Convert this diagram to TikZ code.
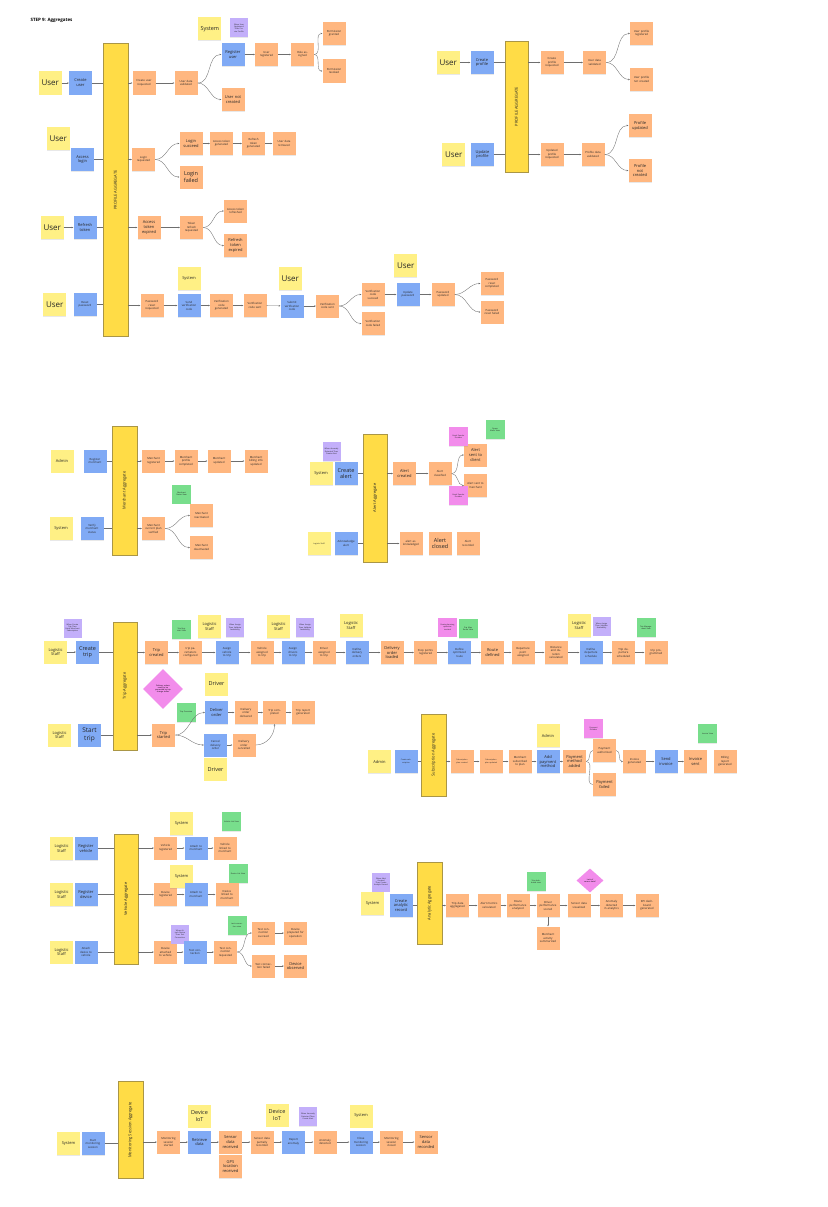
\documentclass[tikz,border=0pt]{standalone}
\usepackage{fontspec}
\setmainfont{Open Sans}
\usetikzlibrary{arrows.meta,backgrounds,calc,shapes.geometric,shadows}
\definecolor{cy}{RGB}{255,240,133}
\definecolor{cb}{RGB}{128,170,245}
\definecolor{co}{RGB}{255,183,128}
\definecolor{cpu}{RGB}{195,175,250}
\definecolor{ck}{RGB}{242,140,235}
\definecolor{cg}{RGB}{120,222,140}
\definecolor{ca}{RGB}{255,220,70}
\definecolor{cab}{RGB}{170,150,70}
\definecolor{ln}{RGB}{110,110,110}
\newcommand\szA{\fontsize{1.9}{2.3}\selectfont}
\newcommand\szB{\fontsize{2.8}{3.5}\selectfont}
\newcommand\szC{\fontsize{4}{4.9}\selectfont}
\newcommand\szD{\fontsize{5.5}{6.4}\selectfont}
\newcommand\szE{\fontsize{8}{9}\selectfont}
\tikzset{
 box/.style={minimum width=23pt, minimum height=23pt, inner sep=0pt, align=center, text width=17pt, font=\szB, text=black!85, drop shadow={shadow xshift=0.3pt, shadow yshift=-0.8pt, opacity=0.18}},
 yel/.style={box, fill=cy},
 cmd/.style={box, fill=cb},
 evt/.style={box, fill=co},
 pol/.style={box, fill=cpu, minimum width=18pt, minimum height=19pt, text width=14pt, font=\szA},
 ext/.style={box, fill=ck, minimum width=19pt, minimum height=19pt, text width=15pt, font=\szA},
 view/.style={box, fill=cg, minimum width=19pt, minimum height=19pt, text width=15pt, font=\szA},
 agg/.style={draw=cab, line width=0.7pt, fill=ca, inner sep=0pt},
 agglabel/.style={rotate=90, font=\szC, text=black!85},
 conn/.style={draw=ln, line width=0.35pt, -{Stealth[length=1.6pt,width=1.5pt]}},
 link/.style={draw=ln, line width=0.35pt},
 vline/.style={draw=ln!60, line width=0.5pt},
 dia/.style={diamond, fill=ck, inner sep=0pt, minimum width=40pt, minimum height=40pt, align=center, text width=17pt, font=\szA},
}
\begin{document}
\begin{tikzpicture}[x=1pt,y=-1pt]
\useasboundingbox[fill=white] (0,0) rectangle (827,1207);

\node[font=\bfseries\fontsize{4.5}{5}\selectfont, anchor=west] (title) at (27,20) {STEP 9: Aggregates};

%% ===== PROFILE AGGREGATE (left) =====
\node[agg, minimum width=25pt, minimum height=293pt] (pa1) at (115.5,189.5) {};
\node[agglabel] (pa1l) at (115.5,190) {PROFILE AGGREGATE};

\node[yel, font=\szE] (u1) at (50,83) {User};
\node[cmd, font=\szC] (cu) at (80.5,83) {Create user};
\node[evt] (cur) at (144,83) {Create user requested};
\node[evt] (udv) at (186,83) {User data validated};
\node[yel, font=\szD] (sys1) at (209,29) {System};
\node[pol] (pol1) at (239,28) {When User Registered Then Create Profile};
\node[cmd, font=\szC] (ru) at (233,54.5) {Register user};
\node[evt, font=\szC] (unc) at (233,99.5) {User not created};
\node[evt] (ureg) at (266.5,54.5) {User registered};
\node[evt] (ra) at (302.5,54.5) {Role assigned};
\node[evt] (pg) at (334,33.5) {Permission granted};
\node[evt] (pr) at (334,71) {Permission revoked};

\node[yel, font=\szE] (u2) at (58,138.5) {User};
\node[cmd, font=\szC] (al) at (82.5,159.5) {Access login};
\node[evt] (lr) at (143.5,159.5) {Login requested};
\node[evt, font=\szC] (ls) at (191,143.5) {Login succeed};
\node[evt, font=\szD] (lf) at (191,177) {Login failed};
\node[evt] (atg) at (221.5,143.5) {Access token generated};
\node[evt] (rtg) at (253.5,143.5) {Refresh token generated};
\node[evt] (udr) at (284,143.5) {User data retrieved};

\node[yel, font=\szE] (u3) at (52,227.5) {User};
\node[cmd, font=\szC] (rt) at (85,227.5) {Refresh token};
\node[evt, font=\szC] (ate) at (149,227.5) {Access token expired};
\node[evt] (trr) at (191.5,227.5) {Token refresh requested};
\node[evt] (atr) at (235.5,211) {Access token refreshed};
\node[evt, font=\szC] (rte) at (235.5,245.5) {Refresh token expired};

\node[yel, font=\szE] (u4) at (54.5,304.5) {User};
\node[cmd] (rp) at (85,304.5) {Reset password};
\node[evt] (prr) at (152,305.5) {Password reset requested};
\node[yel, font=\szC] (sys2) at (189,278.5) {System};
\node[cmd] (svc) at (189,305.5) {Send verification code};
\node[evt] (vcg) at (221.5,305.5) {Verification code generated};
\node[evt] (vcs) at (255,305.5) {Verification code sent};
\node[yel, font=\szE] (u5) at (290,278.5) {User};
\node[cmd] (svc2) at (292,306) {Submit verification code};
\node[evt] (vcs2) at (327.5,306) {Verification code sent};
\node[evt] (vcsu) at (373,294.5) {Verification code succeed};
\node[evt] (vcf) at (373,323.5) {Verification code failed};
\node[yel, font=\szE] (u6) at (405.5,265.5) {User};
\node[cmd] (up) at (408,294.5) {Update password};
\node[evt] (pu) at (443,294.5) {Password updated};
\node[evt] (prc) at (492,283.5) {Password reset completed};
\node[evt] (prf) at (492,312) {Password reset failed};

\draw[conn] (u1) -- (cu);
\draw[link] (cu.east) -- (cu.east -| pa1.west);
\draw[conn] (pa1.east |- cur.west) -- (cur.west);
\draw[conn] (cur) -- (udv);
\draw[conn] (udv.east) to[out=0,in=180] (ru.west);
\draw[conn] (udv.east) to[out=0,in=180] (unc.west);
\draw[conn] (ru) -- (ureg);
\draw[conn] (ureg) -- (ra);
\draw[conn] (ra.east) to[out=0,in=180] (pg.west);
\draw[conn] (ra.east) to[out=0,in=180] (pr.west);

\draw[link] (al.east) -- (al.east -| pa1.west);
\draw[conn] (pa1.east |- lr.west) -- (lr.west);
\draw[conn] (lr.east) to[out=0,in=180] (ls.west);
\draw[conn] (lr.east) to[out=0,in=180] (lf.west);
\draw[conn] (ls) -- (atg);
\draw[conn] (atg) -- (rtg);
\draw[conn] (rtg) -- (udr);

\draw[conn] (u3) -- (rt);
\draw[link] (rt.east) -- (rt.east -| pa1.west);
\draw[conn] (pa1.east |- ate.west) -- (ate.west);
\draw[conn] (ate) -- (trr);
\draw[conn] (trr.east) to[out=0,in=180] (atr.west);
\draw[conn] (trr.east) to[out=0,in=180] (rte.west);

\draw[link] (rp.east) -- (rp.east -| pa1.west);
\draw[conn] (pa1.east |- prr.west) -- (prr.west);
\draw[conn] (prr) -- (svc);
\draw[conn] (svc) -- (vcg);
\draw[conn] (vcg) -- (vcs);
\draw[conn] (vcs) -- (svc2);
\draw[conn] (svc2) -- (vcs2);
\draw[conn] (vcs2.east) to[out=0,in=180] (vcsu.west);
\draw[conn] (vcs2.east) to[out=0,in=180] (vcf.west);
\draw[conn] (vcsu) -- (up);
\draw[conn] (up) -- (pu);
\draw[conn] (pu.east) to[out=0,in=180] (prc.west);
\draw[conn] (pu.east) to[out=0,in=180] (prf.west);

%% ===== PROFILE AGGREGATE (right) =====
\node[agg, minimum width=23pt, minimum height=131pt] (pa2) at (516.5,106.5) {};
\node[agglabel] (pa2l) at (516.5,106.5) {PROFILE AGGREGATE};
\node[yel, font=\szE] (u7) at (448,62.5) {User};
\node[cmd, font=\szC] (cprof) at (482,62.5) {Create profile};
\node[evt] (cpr) at (552,62.5) {Create profile requested};
\node[evt] (udv2) at (594.5,62.5) {User data validated};
\node[evt] (upr) at (641.5,33.5) {User profile registered};
\node[evt] (upnc) at (641.5,79.5) {User profile not created};
\node[yel, font=\szE] (u8) at (453.5,154.5) {User};
\node[cmd, font=\szC] (upd) at (482.5,154.5) {Update profile};
\node[evt] (uprq) at (552,154.5) {Updated profile requested};
\node[evt] (pdv) at (593,154.5) {Profile data validated};
\node[evt, font=\szC] (pup) at (640,125.5) {Profile updated};
\node[evt, font=\szC] (pnc) at (640,170.5) {Profile not created};

\draw[conn] (u7) -- (cprof);
\draw[link] (cprof.east) -- (cprof.east -| pa2.west);
\draw[conn] (pa2.east |- cpr.west) -- (cpr.west);
\draw[conn] (cpr) -- (udv2);
\draw[conn] (udv2.east) to[out=0,in=180] (upr.west);
\draw[conn] (udv2.east) to[out=0,in=180] (upnc.west);
\draw[link] (upd.east) -- (upd.east -| pa2.west);
\draw[conn] (pa2.east |- uprq.west) -- (uprq.west);
\draw[conn] (uprq) -- (pdv);
\draw[conn] (pdv.east) to[out=0,in=180] (pup.west);
\draw[conn] (pdv.east) to[out=0,in=180] (pnc.west);

%% ===== MERCHANT AGGREGATE =====
\node[agg, minimum width=25pt, minimum height=129pt] (ma) at (124.5,490.5) {};
\node[agglabel] (mal) at (124.5,490.5) {Merchant Aggregate};
\node[yel, font=\szC] (adm1) at (62,461) {Admin};
\node[cmd] (rm) at (95,461) {Register merchant};
\node[evt] (mr) at (153.5,461) {Merchant registered};
\node[evt] (mpc) at (186,461) {Merchant profile completed};
\node[evt] (mu) at (219,461) {Merchant updated};
\node[evt] (mbu) at (256,461) {Merchant billing info updated};
\node[yel, font=\szC] (sys3) at (61,528.5) {System};
\node[cmd] (vms) at (92,528.5) {Verify merchant status};
\node[evt] (mcp) at (153.5,528.5) {Merchant current plan verified};
\node[view] (msv) at (181.5,494) {Merchant Status View};
\node[evt] (mra) at (201.5,515.5) {Merchant reactivated};
\node[evt] (mda) at (201.5,547.5) {Merchant deactivated};

\draw[link] (rm.east) -- (rm.east -| ma.west);
\draw[conn] (ma.east |- mr.west) -- (mr.west);
\draw[conn] (mr) -- (mpc);
\draw[conn] (mpc) -- (mu);
\draw[conn] (mu) -- (mbu);
\draw[link] (vms.east) -- (vms.east -| ma.west);
\draw[conn] (ma.east |- mcp.west) -- (mcp.west);
\draw[conn] (mcp.east) to[out=0,in=180] (mra.west);
\draw[conn] (mcp.east) to[out=0,in=180] (mda.west);

%% ===== ALERT AGGREGATE =====
\node[agg, minimum width=24pt, minimum height=128pt] (aa) at (375,498) {};
\node[agglabel] (aal) at (375,498) {Alert Aggregate};
\node[yel, font=\szC] (sys4) at (321,473.5) {System};
\node[pol] (pol2) at (331.5,451.5) {When Anomaly Detected Then Create Alert};
\node[cmd, font=\szD] (cal) at (346,473.5) {Create alert};
\node[evt, font=\szC] (ac) at (404.5,473.5) {Alert created};
\node[evt] (acl) at (440,473.5) {Alert classified};
\node[evt, font=\szC] (asc) at (475.5,455) {Alert sent to client};
\node[evt] (asm) at (475.5,485.5) {Alert sent to merchant};
\node[ext] (esp1) at (458.5,436.5) {Email Sender Provider};
\node[ext] (esp2) at (458.5,495.5) {Email Sender Provider};
\node[view] (oav) at (495,429.5) {Opens Alerts View};
\node[yel, font=\szA] (yl2) at (319,543.5) {Logistic Staff};
\node[cmd] (ack) at (346,543.5) {Acknowledge alert};
\node[evt] (aack) at (411,543.5) {alert acknowledged};
\node[evt, font=\szD] (acls) at (440,543.5) {Alert closed};
\node[evt] (arec) at (468,543.5) {Alert recorded};

\draw[link] (cal.east) -- (cal.east -| aa.west);
\draw[conn] (aa.east |- ac.west) -- (ac.west);
\draw[conn] (ac) -- (acl);
\draw[conn] (acl.east) to[out=0,in=180] (asc.west);
\draw[conn] (acl.east) to[out=0,in=180] (asm.west);
\draw[link] (ack.east) -- (ack.east -| aa.west);
\draw[conn] (aa.east |- aack.west) -- (aack.west);

%% ===== TRIP AGGREGATE =====
\node[agg, minimum width=24pt, minimum height=128pt] (ta) at (125,686) {};
\node[agglabel] (tal) at (125,686) {Trip Aggregate};
\node[pol] (pol3) at (72.5,628) {When Create Trip Then Fetch Merchant Subscription};
\node[yel, font=\szC] (ls1) at (55.5,652) {Logistic Staff};
\node[cmd, font=\szD] (ct) at (87.5,652) {Create trip};
\node[evt, font=\szC] (tc) at (156.5,652.5) {Trip created};
\node[view] (trv) at (181.5,629.5) {Trip Register View};
\node[evt] (tpc) at (190.5,652.5) {trip parameters configured};
\node[yel, font=\szC] (ls2) at (209.5,626.5) {Logistic Staff};
\node[pol] (pol4) at (235,627.5) {When Assign Then Validate Availability};
\node[cmd, font=\szB] (avt) at (227,652.5) {Assign vehicle to trip};
\node[evt] (vat) at (262,652.5) {Vehicle assigned to trip};
\node[yel, font=\szC] (ls3) at (278.5,626.5) {Logistic Staff};
\node[pol] (pol5) at (305,627.5) {When Assign Then Validate Availability};
\node[cmd] (adt) at (293,652.5) {Assign drivers to trip};
\node[evt] (dat) at (324,652.5) {Driver assigned to trip};
\node[yel, font=\szC] (ls4) at (351,625.5) {Logistic Staff};
\node[cmd] (ddo) at (357,652.5) {Define delivery orders};
\node[evt, font=\szC] (dol) at (392,652.5) {Delivery order loaded};
\node[evt] (spr) at (425.5,652.5) {Stop points registered};
\node[ext] (rpo) at (447.5,627) {Route planning optimizer invoked};
\node[view] (tmrv) at (468,628.5) {Trip Map Route View};
\node[cmd] (dor) at (459.5,652.5) {Define optimized route};
\node[evt, font=\szC] (rd) at (492.5,652.5) {Route defined};
\node[evt] (dpa) at (523,652.5) {Departure point assigned};
\node[evt] (ddc) at (556,652.5) {Distance and duration calculated};
\node[yel, font=\szC] (ls5) at (579,625.5) {Logistic Staff};
\node[pol] (pol6) at (601.5,626) {When Assign Then Validate Availability};
\node[cmd] (dds) at (591,652.5) {Define departure schedule};
\node[evt] (tds) at (623.5,652.5) {Trip departure scheduled};
\node[view] (tmv) at (646,627.5) {Trip Management View};
\node[evt] (tp) at (656,652.5) {trip programmed};

\node[dia] (dia1) at (163,689) {Delivery orders ready to be processed by trip change status};
\node[yel, font=\szD] (drv1) at (216.5,684) {Driver};
\node[yel, font=\szC] (ls6) at (59.5,735) {Logistic Staff};
\node[cmd, font=\fontsize{6.5}{7.5}\selectfont] (stt) at (89.5,735) {Start trip};
\node[evt, font=\szC] (ts) at (163.5,735) {Trip started};
\node[view] (tov) at (186,712.5) {Trip Overview};
\node[cmd, font=\szC] (dlo) at (216.5,712.5) {Deliver order};
\node[evt] (dod) at (246,712.5) {Delivery order delivered};
\node[evt] (tcomp) at (274.5,712.5) {Trip completed};
\node[evt] (trg) at (303,712.5) {Trip report generated};
\node[cmd] (cdo) at (215.5,745) {Cancel delivery order};
\node[evt] (docl) at (244,745) {Delivery order cancelled};
\node[yel, font=\szD] (drv2) at (215.5,769) {Driver};

\draw[conn] (ls1) -- (ct);
\draw[link] (ct.east) -- (ct.east -| ta.west);
\draw[conn] (ta.east |- tc.west) -- (tc.west);
\foreach \a/\b in {tc/tpc,tpc/avt,avt/vat,vat/adt,adt/dat,dat/ddo,ddo/dol,dol/spr,spr/dor,dor/rd,rd/dpa,dpa/ddc,ddc/dds,dds/tds,tds/tp}
  \draw[conn] (\a) -- (\b);
\draw[link] (stt.east) -- (stt.east -| ta.west);
\draw[conn] (ta.east |- ts.west) -- (ts.west);
\draw[conn] (ts.east) to[out=0,in=180] (dlo.west);
\draw[conn] (ts.east) to[out=0,in=180] (cdo.west);
\draw[conn] (dlo) -- (dod);
\draw[conn] (dod) -- (tcomp);
\draw[conn] (tcomp) -- (trg);
\draw[conn] (cdo) -- (docl);
\draw[conn] (docl.east) to[out=0,in=-90] (tcomp.south);

%% ===== SUBSCRIPTION AGGREGATE =====
\node[agg, minimum width=25pt, minimum height=82pt] (sa) at (433.5,755) {};
\node[agglabel] (sal) at (433.5,755) {Subscription Aggregate};
\node[yel, font=\szC] (adm2) at (379.5,761.5) {Admin};
\node[cmd, font=\szA] (cs) at (406,761.5) {Create subscription};
\node[evt, font=\szA] (spc) at (462,761.5) {Subscription plan created};
\node[evt, font=\szA] (spu) at (491,761.5) {Subscription plan updated};
\node[evt] (mstp) at (520,761.5) {Merchant subscribed to plan};
\node[yel, font=\szC] (adm3) at (548,735.5) {Admin};
\node[cmd, font=\szC] (apm) at (548,761.5) {Add payment method};
\node[evt, font=\szC] (pma) at (574.5,761.5) {Payment method added};
\node[evt] (pau) at (604.5,750.5) {Payment authorized};
\node[ext] (ppv) at (593.5,728.5) {Payment Provider};
\node[evt, font=\szC] (pf) at (604.5,784.5) {Payment failed};
\node[evt] (ig) at (634.5,761.5) {Invoice generated};
\node[cmd, font=\szC] (si) at (666,761.5) {Send invoice};
\node[evt, font=\szC] (is) at (695.5,761.5) {Invoice sent};
\node[view] (iv) at (707.5,733.5) {Invoice View};
\node[evt] (brg) at (725,761.5) {Billing report generated};

\draw[link] (cs.east) -- (cs.east -| sa.west);
\draw[conn] (sa.east |- spc.west) -- (spc.west);
\draw[conn] (spc) -- (spu);
\draw[conn] (spu) -- (mstp);
\draw[conn] (mstp) -- (apm);
\draw[conn] (apm) -- (pma);
\draw[link] (pma.east) to[out=0,in=180] (pau.west);
\draw[link] (pma.east) to[out=0,in=180] (pf.west);
\draw[conn] (pau.east) to[out=0,in=180] (ig.west);
\draw[conn] (ig) -- (si);
\draw[conn] (si) -- (is);

%% ===== VEHICLE AGGREGATE =====
\node[agg, minimum width=24pt, minimum height=130pt] (va) at (126,899) {};
\node[agglabel] (val) at (126,899) {Vehicle Aggregate};
\node[yel, font=\szC] (ls7) at (61.5,848.5) {Logistic Staff};
\node[cmd, font=\szC] (rv) at (86,848.5) {Register vehicle};
\node[evt] (vr) at (165.5,848) {Vehicle registered};
\node[yel, font=\szC] (sys5) at (181.5,823.5) {System};
\node[cmd] (atm1) at (196,848) {Attach to merchant};
\node[view] (vlv) at (231.5,821.5) {Vehicle List View};
\node[evt] (vlm) at (225,848) {Vehicle linked to merchant};
\node[yel, font=\szC] (ls8) at (61.5,894.5) {Logistic Staff};
\node[cmd, font=\szC] (rdv) at (86,894.5) {Register device};
\node[evt] (dr) at (165.5,894.5) {Device registered};
\node[yel, font=\szC] (sys6) at (181.5,876.5) {System};
\node[cmd] (atm2) at (196,894.5) {Attach to merchant};
\node[view] (dlv) at (238,873.5) {Device List View};
\node[evt] (dlm) at (227,894.5) {Device linked to merchant};
\node[yel, font=\szC] (ls9) at (61.5,952) {Logistic Staff};
\node[cmd] (adv) at (86,952) {Attach device to vehicle};
\node[evt] (dav) at (165.5,952) {Device attached to vehicle};
\node[pol] (pol7) at (180,934) {When Attach Device Then Test Connection};
\node[cmd] (tcn) at (195,952) {Test connection};
\node[view] (tcv) at (237,925.5) {test connection view};
\node[evt] (tcr) at (225.5,952) {Test connection requested};
\node[evt] (tcs) at (263.5,933) {Test connection succeed};
\node[evt] (dpo) at (295.5,933) {Device prepared for operation};
\node[evt] (tcf) at (263.5,966) {Test connection failed};
\node[evt, font=\szC, text width=22pt] (dob) at (295.5,966) {Device observed};

\draw[link] (rv.east) -- (rv.east -| va.west);
\draw[conn] (va.east |- vr.west) -- (vr.west);
\draw[conn] (vr) -- (atm1);
\draw[conn] (atm1) -- (vlm);
\draw[link] (rdv.east) -- (rdv.east -| va.west);
\draw[conn] (va.east |- dr.west) -- (dr.west);
\draw[conn] (dr) -- (atm2);
\draw[conn] (atm2) -- (dlm);
\draw[link] (adv.east) -- (adv.east -| va.west);
\draw[conn] (va.east |- dav.west) -- (dav.west);
\draw[conn] (dav) -- (tcn);
\draw[conn] (tcn) -- (tcr);
\draw[conn] (tcr.east) to[out=0,in=180] (tcs.west);
\draw[conn] (tcr.east) to[out=0,in=180] (tcf.west);
\draw[conn] (tcs) -- (dpo);
\draw[conn] (tcf) -- (dob);

%% ===== ANALYTIC AGGREGATE =====
\node[agg, minimum width=25pt, minimum height=82pt] (ana) at (429.5,903) {};
\node[agglabel] (anal) at (429.5,903) {Analytic Aggregate};
\node[yel, font=\szC] (sys7) at (372.5,903.5) {System};
\node[pol] (pol8) at (381,882) {When Alert Created Then Create Analytic Record};
\node[cmd, font=\szC] (car) at (401,905.5) {Create analytic record};
\node[evt] (tda) at (457.5,905.5) {Trip data aggregated};
\node[evt] (amc) at (489,905.5) {Alert metrics calculated};
\node[evt] (rpa) at (518,905.5) {Route performance analyzed};
\node[view] (tdv) at (536,881.5) {Trip dashboard view};
\node[evt] (dps) at (548,905.5) {Driver performance scored};
\node[evt] (mas) at (548,938) {Merchant activity summarized};
\node[dia, minimum width=27pt, minimum height=24pt, text width=12pt] (dia2) at (590,880.5) {Lack of sensor data?};
\node[evt] (sdv) at (579,905.5) {Sensor data visualized};
\node[evt] (ada) at (611.5,905.5) {Anomaly detected in analytics};
\node[evt] (kpi) at (647,905.5) {KPI dashboard generated};

\draw[link] (car.east) -- (car.east -| ana.west);
\draw[conn] (ana.east |- tda.west) -- (tda.west);
\draw[conn] (tda) -- (amc);
\draw[conn] (amc) -- (rpa);
\draw[conn] (rpa) -- (dps);
\draw[conn] (dps) -- (sdv);
\draw[conn] (sdv) -- (ada);
\draw[conn] (ada) -- (kpi);
\draw[conn] (dps) -- (mas);

%% ===== MONITORING SESSION AGGREGATE =====
\node[agg, minimum width=25pt, minimum height=97pt] (msa) at (130.5,1130) {};
\node[agglabel] (msal) at (130.5,1130) {Monitoring Session Aggregate};
\node[yel, font=\szC] (sys8) at (68.5,1143.5) {System};
\node[cmd] (sms) at (93,1143.5) {Start monitoring session};
\node[evt] (mss) at (168.5,1142) {Monitoring session started};
\node[yel, font=\szD] (diot1) at (199.5,1116) {Device IoT};
\node[cmd, font=\szC] (rdd) at (199.5,1142) {Retrieve data};
\node[evt, font=\szC] (sdr) at (230.5,1142) {Sensor data received};
\node[evt, font=\szC] (glr) at (230.5,1166.5) {GPS location received};
\node[evt] (sdpr) at (262,1142) {Sensor data partially recorded};
\node[yel, font=\szD] (diot2) at (277,1115) {Device IoT};
\node[pol] (pol9) at (308,1116.5) {When Anomaly Detected Then Create Alert};
\node[cmd] (ran) at (293.5,1142) {Report anomaly};
\node[evt] (anod) at (325,1142) {Anomaly detected};
\node[yel, font=\szC] (sys9) at (361,1116) {System};
\node[cmd] (cms) at (361,1142) {Close monitoring session};
\node[evt] (msc) at (391.5,1142) {Monitoring session closed};
\node[evt, font=\szC] (sdrec) at (426,1142) {Sensor data recorded};

\draw[link] (sms.east) -- (sms.east -| msa.west);
\draw[conn] (msa.east |- mss.west) -- (mss.west);
\foreach \a/\b in {mss/rdd,rdd/sdr,sdr/sdpr,sdpr/ran,ran/anod,anod/cms,cms/msc,msc/sdrec}
  \draw[conn] (\a) -- (\b);

%% ===== vertical guide lines (behind) =====
\begin{scope}[on background layer]
\draw[vline] ($(udv)+(0,-21)$) -- ($(udv)+(0,25)$);
\draw[vline] ($(ra)+(0,-24)$) -- ($(ra)+(0,24)$);
\draw[vline] ($(lr)+(0,-21.5)$) -- ($(lr)+(0,25.5)$);
\draw[vline] ($(trr)+(0,-21.5)$) -- ($(trr)+(0,25.5)$);
\draw[vline] ($(pu)+(0,-25.5)$) -- ($(pu)+(0,22.5)$);
\draw[vline] ($(udv2)+(0,-22.5)$) -- ($(udv2)+(0,25.5)$);
\draw[vline] ($(pdv)+(0,-22.5)$) -- ($(pdv)+(0,23.5)$);
\draw[vline] ($(mcp.east)+(1,-15.5)$) -- ($(mcp.east)+(1,31.5)$);
\draw[vline] ($(acl)+(0,-25.5)$) -- ($(acl)+(0,22.5)$);
\draw[vline] (dia1.south) -- ($(ts)+(0,22)$);
\draw[vline] ($(pma)+(0,-22.5)$) -- ($(pma)+(0,25.5)$);
\draw[vline] ($(is)+(0,-22.5)$) -- ($(is)+(0,25.5)$);
\end{scope}
\end{tikzpicture}
\end{document}
